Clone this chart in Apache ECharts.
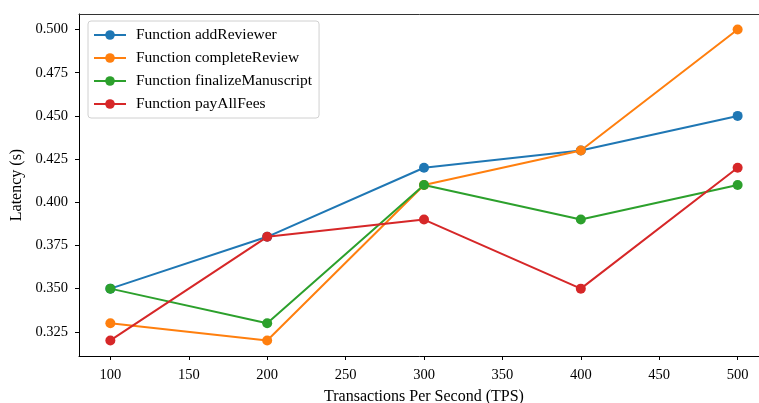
<!DOCTYPE html>
<html>
<head>
<meta charset="utf-8">
<script src="https://cdn.jsdelivr.net/npm/echarts@6/dist/echarts.min.js"></script>
<style>
  html, body { margin: 0; padding: 0; background: #fff; }
  #chart { width: 759px; height: 403px; }
</style>
</head>
<body>
<div id="chart"></div>
<script>
var tps = [100, 200, 300, 400, 500];
var addReviewer = [0.35, 0.38, 0.42, 0.43, 0.45];
var completeReview = [0.33, 0.32, 0.41, 0.43, 0.50];
var finalizeManuscript = [0.35, 0.33, 0.41, 0.39, 0.41];
var payAllFees = [0.32, 0.38, 0.39, 0.35, 0.42];
var xTicks = [100, 150, 200, 250, 300, 350, 400, 450, 500];
var yTicks = [0.325, 0.350, 0.375, 0.400, 0.425, 0.450, 0.475, 0.500];

var names = ['Function addReviewer', 'Function completeReview', 'Function finalizeManuscript', 'Function payAllFees'];
var values = [addReviewer, completeReview, finalizeManuscript, payAllFees];
var colors = ['#1f77b4', '#ff7f0e', '#2ca02c', '#d62728'];
var font = 'Liberation Serif';

var series = [];
names.forEach(function (n, i) {
    var pts = [];
    tps.forEach(function (x, j) { pts.push([x, values[i][j]]); });
    series.push({
        name: n,
        type: 'line',
        data: pts,
        symbol: 'circle',
        symbolSize: 10,
        lineStyle: { width: 2, color: colors[i] },
        itemStyle: { color: colors[i] },
        emphasis: { disabled: true }
    });
});

var chart = echarts.init(document.getElementById('chart'));
chart.setOption({
    animation: false,
    color: colors,
    // the plot runs past the right edge of the picture (it was cropped)
    grid: { left: 79, top: 14, width: 690, height: 342, outerBoundsMode: 'none' },
    legend: {
        orient: 'vertical',
        left: 88, top: 21,
        padding: [6, 7, 6, 5],
        backgroundColor: '#fff',
        borderColor: '#d0d0d0',
        borderWidth: 1,
        borderRadius: 3,
        itemWidth: 32,
        itemHeight: 12,
        itemGap: 7,
        textStyle: { fontFamily: font, fontSize: 15.5, color: '#000', lineHeight: 16, padding: [0, 0, 0, 5] },
        data: names
    },
    xAxis: [{
        type: 'value',
        min: 80, max: 520,
        name: 'Transactions Per Second (TPS)',
        nameLocation: 'middle',
        nameGap: 33,
        nameTextStyle: { fontFamily: font, fontSize: 16, color: '#000' },
        axisLine: { lineStyle: { color: '#000', width: 1 } },
        axisTick: { show: true, length: 4, lineStyle: { color: '#000' }, customValues: xTicks },
        axisLabel: { fontFamily: font, fontSize: 14.5, color: '#000', margin: 12, customValues: xTicks },
        splitLine: { show: false }
    }, {
        type: 'value',
        position: 'top',
        min: 80, max: 520,
        axisLine: { show: true, lineStyle: { color: '#333', width: 1 } },
        axisTick: { show: false },
        axisLabel: { show: false },
        splitLine: { show: false }
    }],
    yAxis: {
        type: 'value',
        min: 0.311, max: 0.509,
        name: 'Latency (s)',
        nameLocation: 'middle',
        nameGap: 51,
        nameTextStyle: { fontFamily: font, fontSize: 16, color: '#000' },
        axisLine: { show: true, lineStyle: { color: '#000', width: 1 } },
        axisTick: { show: true, length: 4, lineStyle: { color: '#000' }, customValues: yTicks },
        axisLabel: {
            fontFamily: font, fontSize: 14.5, color: '#000', margin: 11, customValues: yTicks,
            formatter: function (v) { return v.toFixed(3); }
        },
        splitLine: { show: false }
    },
    series: series
});
</script>
</body>
</html>
